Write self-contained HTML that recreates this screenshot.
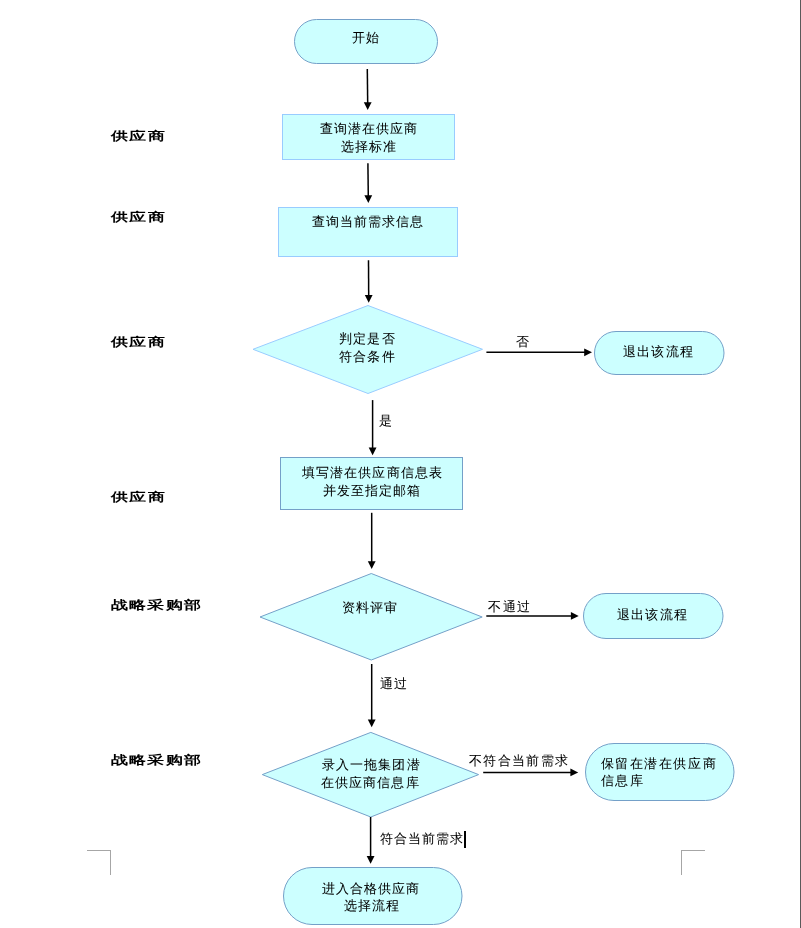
<!DOCTYPE html>
<html><head><meta charset="utf-8"><title>流程图</title>
<style>
html,body{margin:0;padding:0;}
body{width:801px;height:928px;overflow:hidden;position:relative;}
svg{position:absolute;left:0;top:0;display:block;will-change:transform;}
.t text{font-family:"Liberation Sans",sans-serif;font-size:13px;fill:#000;stroke:#000;stroke-width:0.05px;}
.b text{font-family:"Liberation Sans",sans-serif;font-size:13px;font-weight:bold;fill:#000;}
</style></head>
<body>
<svg width="801" height="928" viewBox="0 0 801 928">
<g class="s">
<rect x="294.5" y="19.5" width="143.00" height="44.00" rx="22.00" ry="22.00" fill="#CCFFFF" stroke="#74A0C8" stroke-width="1"/>
<rect x="282.5" y="114.5" width="172.00" height="45.00" fill="#CCFFFF" stroke="#99CCFF" stroke-width="1"/>
<rect x="278.5" y="207.5" width="179.00" height="49.00" fill="#CCFFFF" stroke="#99CCFF" stroke-width="1"/>
<polygon points="253,349.3 368,305.5 482.5,349.3 368,393.5" fill="#CCFFFF" stroke="#99CCFF" stroke-width="1"/>
<rect x="594.5" y="331.5" width="129.50" height="43.00" rx="21.50" ry="21.50" fill="#CCFFFF" stroke="#74A0C8" stroke-width="1"/>
<rect x="280.5" y="457.5" width="182.00" height="52.00" fill="#CCFFFF" stroke="#74A0C8" stroke-width="1"/>
<polygon points="260,617 371.3,573.5 482.2,617 371.3,660" fill="#CCFFFF" stroke="#74A0C8" stroke-width="1"/>
<rect x="583.5" y="593.5" width="139.50" height="45.00" rx="22.50" ry="22.50" fill="#CCFFFF" stroke="#74A0C8" stroke-width="1"/>
<polygon points="262.3,774.6 370.8,732.4 478.6,774.6 370.8,817" fill="#CCFFFF" stroke="#74A0C8" stroke-width="1"/>
<rect x="585.5" y="743.5" width="148.50" height="57.00" rx="28.50" ry="28.50" fill="#CCFFFF" stroke="#74A0C8" stroke-width="1"/>
<rect x="283.5" y="867.5" width="178.50" height="57.00" rx="28.50" ry="28.50" fill="#CCFFFF" stroke="#74A0C8" stroke-width="1"/>
</g>
<g class="a">
<line x1="367.3" y1="69" x2="367.7" y2="103.2" stroke="#000" stroke-width="1.5"/>
<polygon points="363.8,102.2 371.59999999999997,102.2 367.7,110" fill="#000"/>
<line x1="367.9" y1="163.2" x2="368.3" y2="196.2" stroke="#000" stroke-width="1.5"/>
<polygon points="364.40000000000003,195.2 372.2,195.2 368.3,203" fill="#000"/>
<line x1="368.5" y1="260.3" x2="368.7" y2="296.0" stroke="#000" stroke-width="1.5"/>
<polygon points="364.8,295.0 372.59999999999997,295.0 368.7,302.8" fill="#000"/>
<line x1="372.6" y1="400.1" x2="372.6" y2="448.5" stroke="#000" stroke-width="1.5"/>
<polygon points="368.70000000000005,447.5 376.5,447.5 372.6,455.3" fill="#000"/>
<line x1="371.7" y1="512.8" x2="371.7" y2="562.2" stroke="#000" stroke-width="1.5"/>
<polygon points="367.8,561.2 375.59999999999997,561.2 371.7,569" fill="#000"/>
<line x1="371.7" y1="664" x2="371.7" y2="720.4000000000001" stroke="#000" stroke-width="1.5"/>
<polygon points="367.8,719.4000000000001 375.59999999999997,719.4000000000001 371.7,727.2" fill="#000"/>
<line x1="370.6" y1="817" x2="370.6" y2="857.0" stroke="#000" stroke-width="1.5"/>
<polygon points="366.70000000000005,856.0 374.5,856.0 370.6,863.8" fill="#000"/>
<line x1="486.4" y1="352.3" x2="585.2" y2="352.3" stroke="#000" stroke-width="1.5"/>
<polygon points="584.2,348.40000000000003 584.2,356.2 592,352.3" fill="#000"/>
<line x1="486.3" y1="615.9" x2="571.9000000000001" y2="615.9" stroke="#000" stroke-width="1.5"/>
<polygon points="570.9000000000001,612.0 570.9000000000001,619.8 578.7,615.9" fill="#000"/>
<line x1="483.2" y1="772.4" x2="571.4000000000001" y2="772.4" stroke="#000" stroke-width="1.5"/>
<polygon points="570.4000000000001,768.5 570.4000000000001,776.3 578.2,772.4" fill="#000"/>
</g>
<g class="t">
<text x="351.80" y="42.00" letter-spacing="1.50">开始</text>
<text x="319.50" y="132.70" letter-spacing="1.08">查询潜在供应商</text>
<text x="341.20" y="150.70" letter-spacing="1.00">选择标准</text>
<text x="311.50" y="226.00" letter-spacing="1.07">查询当前需求信息</text>
<text x="339.00" y="343.00" letter-spacing="1.20">判定是否</text>
<text x="339.00" y="361.00" letter-spacing="1.20">符合条件</text>
<text x="516.00" y="346.00" letter-spacing="1.00">否</text>
<text x="622.60" y="356.30" letter-spacing="1.35">退出该流程</text>
<text x="379.40" y="424.50" letter-spacing="1.00">是</text>
<text x="301.50" y="476.80" letter-spacing="1.17">填写潜在供应商信息表</text>
<text x="322.60" y="495.00" letter-spacing="1.07">并发至指定邮箱</text>
<text x="342.40" y="612.00" letter-spacing="0.80">资料评审</text>
<text x="488.00" y="610.50" letter-spacing="1.60">不通过</text>
<text x="616.90" y="618.70" letter-spacing="1.30">退出该流程</text>
<text x="379.90" y="688.00" letter-spacing="1.50">通过</text>
<text x="321.80" y="769.00" letter-spacing="1.13">录入一拖集团潜</text>
<text x="320.80" y="787.00" letter-spacing="1.13">在供应商信息库</text>
<text x="469.00" y="765.40" letter-spacing="1.33">不符合当前需求</text>
<text x="600.50" y="768.30" letter-spacing="1.60">保留在潜在供应商</text>
<text x="600.50" y="785.40" letter-spacing="1.60">信息库</text>
<text x="380.00" y="843.30" letter-spacing="1.06">符合当前需求</text>
<text x="321.70" y="892.80" letter-spacing="1.05">进入合格供应商</text>
<text x="344.20" y="910.20" letter-spacing="1.03">选择流程</text>
</g>
<g class="b">
<text transform="translate(110.80,139.82) scale(1.3,0.92)" x="0" y="0" letter-spacing="0.85">供应商</text>
<text transform="translate(110.80,221.42) scale(1.3,0.92)" x="0" y="0" letter-spacing="0.85">供应商</text>
<text transform="translate(110.80,345.82) scale(1.3,0.92)" x="0" y="0" letter-spacing="0.85">供应商</text>
<text transform="translate(110.80,500.82) scale(1.3,0.92)" x="0" y="0" letter-spacing="0.85">供应商</text>
<text transform="translate(110.60,609.42) scale(1.3,0.92)" x="0" y="0" letter-spacing="0.85">战略采购部</text>
<text transform="translate(110.60,764.42) scale(1.3,0.92)" x="0" y="0" letter-spacing="0.85">战略采购部</text>
</g>
<rect x="87" y="850" width="24" height="1" fill="#A6A6A6"/>
<rect x="110" y="850" width="1" height="25" fill="#A6A6A6"/>
<rect x="681" y="850" width="24" height="1" fill="#A6A6A6"/>
<rect x="681" y="850" width="1" height="25" fill="#A6A6A6"/>
<rect x="800" y="0" width="1" height="928" fill="#5A5A5A"/>
<rect x="464" y="831" width="2" height="17" fill="#000"/>
</svg>
</body></html>
